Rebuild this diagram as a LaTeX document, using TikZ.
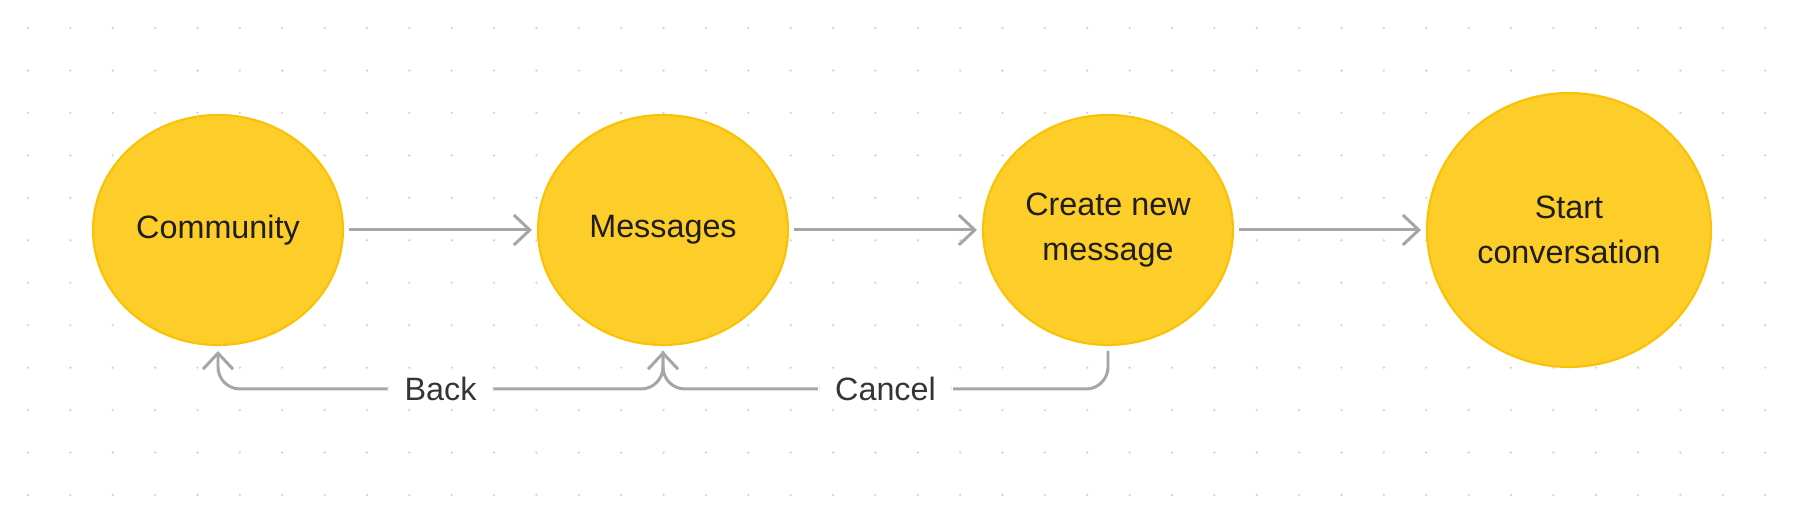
\documentclass[tikz,border=0pt]{standalone}
\usepackage{fontspec}
\setmainfont{Liberation Sans}
\usepackage{tikz}
\usetikzlibrary{arrows.meta,positioning,shapes.geometric,calc}
\definecolor{stateY}{RGB}{253,205,42}
\definecolor{stateB}{RGB}{249,194,5}
\definecolor{linkG}{RGB}{166,166,166}
\definecolor{dotG}{RGB}{212,212,212}
\definecolor{txtK}{RGB}{30,30,30}

\begin{document}
\begin{tikzpicture}[
  font=\fontsize{9.2}{13}\selectfont, >={Straight Barb[length=1.6mm, width=3mm]},
  state/.style={ellipse, draw=stateB, line width=0.6pt, fill=stateY, text=txtK,
                minimum width=2.5cm, minimum height=2.3cm, inner sep=0pt,
                outer sep=0.06cm, align=center},
  link/.style={linkG, line width=0.85pt},
  lbl/.style={fill=white, text=txtK!90, inner xsep=0.17cm, inner ysep=1pt}]

  \useasboundingbox (0,0) rectangle (18,5.26);
  \fill[white] (0,0) rectangle (18,5.26);
  % dotted canvas
  \foreach \i in {0,...,41}
    \foreach \j in {0,...,11}
      \fill[dotG] ({0.28+0.4237*\i},{0.31+0.4245*\j}) circle (0.013);

  \node[state] (com) at (2.18,2.96) {Community};
  \node[state] (msg) at (6.63,2.96) {Messages};
  \node[state] (new) at (11.08,2.96) {Create new\\message};
  \node[state, minimum width=2.84cm, minimum height=2.74cm] (conv) at (15.69,2.96)
    {Start\\conversation};

  \draw[->, link] (com) -- (msg);
  \draw[->, link] (msg) -- (new);
  \draw[->, link] (new) -- (conv);

  % way back along the bottom
  \coordinate (row) at (0,1.37);
  \draw[->, link, rounded corners=0.22cm] (msg.south) -- (msg.south |- row)
    -- node[lbl]{Back} (com.south |- row) -- (com.south);
  \draw[->, link, rounded corners=0.22cm] (new.south) -- (new.south |- row)
    -- node[lbl]{Cancel} (msg.south |- row) -- (msg.south);
\end{tikzpicture}
\end{document}
